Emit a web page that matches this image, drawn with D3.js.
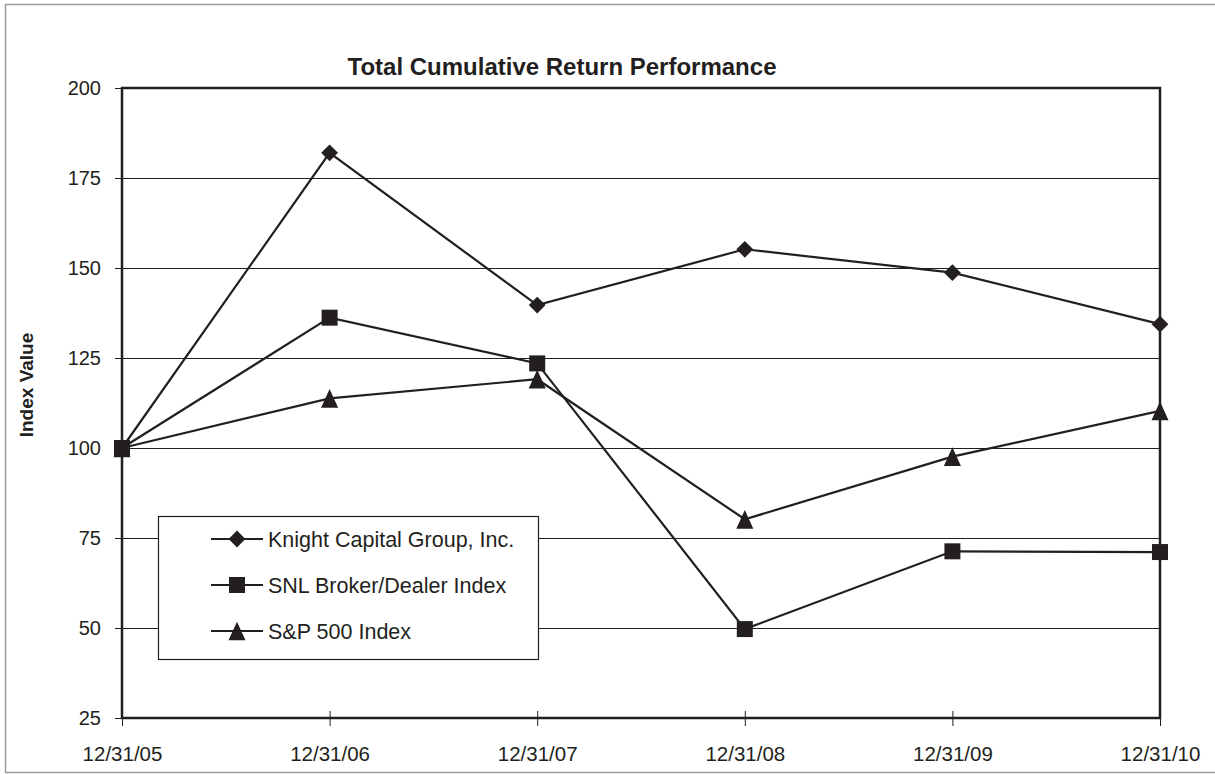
<!DOCTYPE html>
<html>
<head>
<meta charset="utf-8">
<script src="https://cdn.jsdelivr.net/npm/d3@7"></script>
<style>
  body { margin: 0; background: #fff; }
  svg text { font-family: "Liberation Sans", Arial, sans-serif; fill: #231f20; }
</style>
</head>
<body>
<div id="chart"></div>
<script>
const dates = ['12/31/05', '12/31/06', '12/31/07', '12/31/08', '12/31/09', '12/31/10'];
const knight = [100, 182.0, 139.7, 155.2, 148.7, 134.4];
const snl = [100, 136.2, 123.5, 49.7, 71.3, 71.1];
const sp500 = [100, 113.8, 119.1, 80.2, 97.6, 110.3];
const yTicks = [25, 50, 75, 100, 125, 150, 175, 200];

const series = [
  { name: 'Knight Capital Group, Inc.', values: knight, symbol: 'diamond' },
  { name: 'SNL Broker/Dealer Index', values: snl, symbol: 'square' },
  { name: 'S&P 500 Index', values: sp500, symbol: 'triangle' }
];

const width = 1215;
const height = 774;
const margin = { top: 88, right: 55, bottom: 56, left: 122 };
const ink = '#231f20';

const svg = d3.select('#chart').append('svg')
  .attr('width', width)
  .attr('height', height);

// outer frame (left, top, bottom only)
svg.append('path')
  .attr('d', `M5.5,773 V4.5 H1215 M5.5,772.5 H1215`)
  .attr('fill', 'none')
  .attr('stroke', '#9a9a9a')
  .attr('stroke-width', 1.5);

const x = d3.scalePoint()
  .domain(dates)
  .range([margin.left, width - margin.right]);

const y = d3.scaleLinear()
  .domain([25, 200])
  .range([height - margin.bottom, margin.top]);

// taller-than-equilateral triangle, like the original
const tallTriangle = {
  draw(context, size) {
    const w = Math.sqrt(size);
    const h = w * 1.1;
    context.moveTo(0, -h / 2);
    context.lineTo(w / 2, h / 2);
    context.lineTo(-w / 2, h / 2);
    context.closePath();
  }
};

const symbols = {
  diamond: d3.symbol().type(d3.symbolDiamond2).size(180),
  square: d3.symbol().type(d3.symbolSquare).size(256),
  triangle: d3.symbol().type(tallTriangle).size(290)
};

// gridlines
svg.append('g')
  .selectAll('line')
  .data(yTicks.filter(d => d > 25 && d < 200))
  .enter().append('line')
  .attr('x1', margin.left)
  .attr('x2', width - margin.right)
  .attr('y1', d => y(d) + 0.5)
  .attr('y2', d => y(d) + 0.5)
  .attr('stroke', ink)
  .attr('stroke-width', 1.2);

// y axis ticks + labels
const yAxis = svg.append('g')
  .attr('transform', `translate(${margin.left},0)`)
  .call(d3.axisLeft(y).tickValues(yTicks).tickSize(7).tickPadding(14));
yAxis.select('.domain').remove();
yAxis.selectAll('line').attr('stroke', ink).attr('stroke-width', 1);
yAxis.selectAll('text')
  .style('font-size', '20px')
  .attr('fill', ink)
  .attr('font-family', null);

// x axis ticks + labels
const xAxis = svg.append('g')
  .attr('transform', `translate(0,${height - margin.bottom})`)
  .call(d3.axisBottom(x).tickSize(8).tickPadding(20));
xAxis.select('.domain').remove();
xAxis.selectAll('.tick line')
  .attr('y1', -7)
  .attr('stroke', ink)
  .attr('stroke-width', 1);
xAxis.selectAll('text')
  .style('font-size', '20.5px')
  .attr('fill', ink)
  .attr('font-family', null);

// plot frame
svg.append('rect')
  .attr('x', margin.left)
  .attr('y', margin.top)
  .attr('width', width - margin.right - margin.left)
  .attr('height', height - margin.bottom - margin.top)
  .attr('fill', 'none')
  .attr('stroke', ink)
  .attr('stroke-width', 2.5);

// legend box (covers gridlines)
const legend = svg.append('g');
legend.append('rect')
  .attr('x', 158.5)
  .attr('y', 516.5)
  .attr('width', 380)
  .attr('height', 143)
  .attr('fill', '#fff')
  .attr('stroke', ink)
  .attr('stroke-width', 1.2);

const legendY = d3.scalePoint().domain(series.map(s => s.name)).range([539, 631]);
const rows = legend.selectAll('g.row')
  .data(series)
  .enter().append('g')
  .attr('class', 'row')
  .attr('transform', d => `translate(0,${legendY(d.name)})`);
rows.append('line')
  .attr('x1', 211).attr('x2', 263)
  .attr('stroke', ink).attr('stroke-width', 2);
rows.append('path')
  .attr('transform', 'translate(237,0)')
  .attr('d', d => symbols[d.symbol]())
  .attr('fill', ink);
rows.append('text')
  .attr('x', 268)
  .attr('dy', '0.36em')
  .style('font-size', '21.5px')
  .text(d => d.name);

// lines
const line = d3.line()
  .x((d, i) => x(dates[i]))
  .y(d => y(d));

svg.append('g')
  .selectAll('path')
  .data(series)
  .enter().append('path')
  .attr('d', d => line(d.values))
  .attr('fill', 'none')
  .attr('stroke', ink)
  .attr('stroke-width', 2.2);

// markers
series.forEach(s => {
  svg.append('g')
    .selectAll('path')
    .data(s.values)
    .enter().append('path')
    .attr('transform', (d, i) => `translate(${x(dates[i])},${y(d)})`)
    .attr('d', symbols[s.symbol]())
    .attr('fill', ink);
});

// title
svg.append('text')
  .attr('x', 562)
  .attr('y', 75)
  .attr('text-anchor', 'middle')
  .style('font-size', '24px')
  .style('font-weight', 'bold')
  .text('Total Cumulative Return Performance');

// y label
svg.append('text')
  .attr('transform', 'translate(33,385) rotate(-90)')
  .attr('text-anchor', 'middle')
  .style('font-size', '19px')
  .style('font-weight', 'bold')
  .text('Index Value');
</script>
</body>
</html>
